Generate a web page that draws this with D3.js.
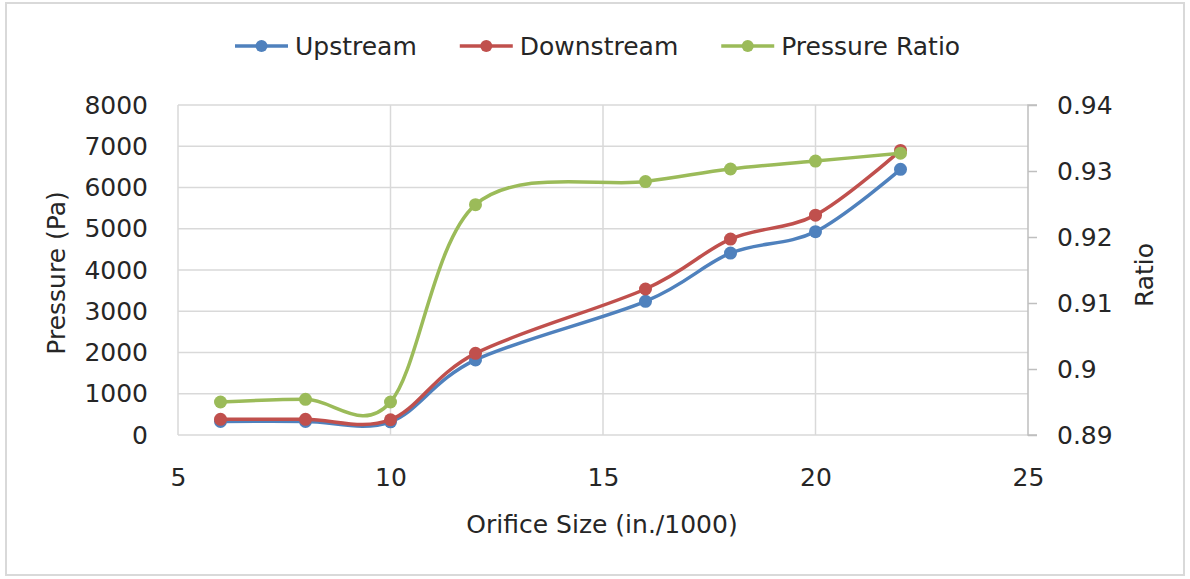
<!DOCTYPE html>
<html>
<head>
<meta charset="utf-8">
<script src="https://cdn.jsdelivr.net/npm/d3@7"></script>
<style>
  html, body { margin: 0; padding: 0; background: #ffffff; }
  svg { display: block; }
  text { font-family: "DejaVu Sans", sans-serif; fill: #262626; }
</style>
</head>
<body>
<svg id="chart" width="1190" height="579"></svg>
<script>
// Orifice sizes (in./1000)
const orificeSizes = [6, 8, 10, 12, 16, 18, 20, 22];
// Pressures (Pa)
const upstream   = [330, 330, 320, 1820, 3240, 4410, 4930, 6440];
const downstream = [380, 380, 370, 1980, 3540, 4750, 5330, 6900];
// Downstream / upstream pressure ratio
const pressureRatio = [0.8950, 0.8954, 0.8950, 0.9249, 0.9284, 0.9303, 0.9315, 0.9327];

const xTicks = [5, 10, 15, 20, 25];
const leftTicks = [0, 1000, 2000, 3000, 4000, 5000, 6000, 7000, 8000];
const rightTicks = [0.89, 0.90, 0.91, 0.92, 0.93, 0.94];

const seriesNames = ["Upstream", "Downstream", "Pressure Ratio"];
const seriesColors = ["#4f81bd", "#c0504d", "#9bbb59"];

const svg = d3.select("#chart");
const W = 1190, H = 579;
const plot = { left: 178, right: 1028, top: 105, bottom: 435 };

// outer frame
svg.append("rect")
  .attr("x", 6).attr("y", 3).attr("width", W - 12).attr("height", H - 7)
  .attr("fill", "#fff").attr("stroke", "#d9d9d9").attr("stroke-width", 2);

const x = d3.scaleLinear().domain([5, 25]).range([plot.left, plot.right]);
const yL = d3.scaleLinear().domain([0, 8000]).range([plot.bottom, plot.top]);
const yR = d3.scaleLinear().domain([0.89, 0.94]).range([plot.bottom, plot.top]);

// horizontal gridlines
svg.append("g").selectAll("line").data(leftTicks).join("line")
  .attr("x1", plot.left).attr("x2", plot.right)
  .attr("y1", d => yL(d)).attr("y2", d => yL(d))
  .attr("stroke", "#d9d9d9").attr("stroke-width", 1.5);

// vertical gridlines
svg.append("g").selectAll("line").data(xTicks.slice(0, -1)).join("line")
  .attr("x1", d => x(d)).attr("x2", d => x(d))
  .attr("y1", plot.top).attr("y2", plot.bottom)
  .attr("stroke", "#d9d9d9").attr("stroke-width", 1.5);

// right axis
const rightAxis = d3.axisRight(yR).tickValues(rightTicks).tickSize(9).tickPadding(20)
  .tickFormat(d => d3.format("")(+d.toFixed(2)));
const gR = svg.append("g").attr("transform", `translate(${plot.right},0)`).call(rightAxis);
gR.select(".domain").attr("stroke", "#bfbfbf").attr("stroke-width", 1.5)
  .attr("d", `M9,${plot.top}H0V${plot.bottom}H9`);
gR.selectAll(".tick line").attr("stroke", "#bfbfbf").attr("stroke-width", 1.5);
gR.selectAll(".tick text").attr("font-size", 25).attr("fill", "#262626")
  .attr("font-family", "DejaVu Sans");

// left axis labels
const leftAxis = d3.axisLeft(yL).tickValues(leftTicks).tickSize(0).tickPadding(30)
  .tickFormat(d3.format("d"));
const gL = svg.append("g").attr("transform", `translate(${plot.left},0)`).call(leftAxis);
gL.select(".domain").remove();
gL.selectAll(".tick text").attr("font-size", 25).attr("fill", "#262626")
  .attr("font-family", "DejaVu Sans");

// bottom axis labels
const bottomAxis = d3.axisBottom(x).tickValues(xTicks).tickSize(0).tickPadding(33)
  .tickFormat(d3.format("d"));
const gB = svg.append("g").attr("transform", `translate(0,${plot.bottom})`).call(bottomAxis);
gB.select(".domain").remove();
gB.selectAll(".tick text").attr("font-size", 25).attr("fill", "#262626")
  .attr("font-family", "DejaVu Sans");

// axis titles
svg.append("text").attr("x", 602).attr("y", 533).attr("text-anchor", "middle")
  .attr("font-size", 25).text("Orifice Size (in./1000)");
svg.append("text").attr("transform", "translate(65,273) rotate(-90)")
  .attr("text-anchor", "middle").attr("font-size", 25).text("Pressure (Pa)");
svg.append("text").attr("transform", "translate(1153,275) rotate(-90)")
  .attr("text-anchor", "middle").attr("font-size", 25).text("Ratio");

// series
const series = [
  { values: upstream, y: yL },
  { values: downstream, y: yL },
  { values: pressureRatio, y: yR }
];
const line = d3.line().curve(d3.curveCardinal.tension(0));

series.forEach((s, i) => {
  const pts = orificeSizes.map((o, j) => [x(o), s.y(s.values[j])]);
  const g = svg.append("g");
  g.append("path").attr("d", line(pts)).attr("fill", "none")
    .attr("stroke", seriesColors[i]).attr("stroke-width", 3.5)
    .attr("stroke-linejoin", "round").attr("stroke-linecap", "round");
  g.selectAll("circle").data(pts).join("circle")
    .attr("cx", d => d[0]).attr("cy", d => d[1]).attr("r", 6.5)
    .attr("fill", seriesColors[i]);
});

// legend
const legend = svg.append("g");
let lx = 235;
const ly = 46;
seriesNames.forEach((name, i) => {
  legend.append("line").attr("x1", lx).attr("x2", lx + 53).attr("y1", ly).attr("y2", ly)
    .attr("stroke", seriesColors[i]).attr("stroke-width", 3.5);
  legend.append("circle").attr("cx", lx + 26.5).attr("cy", ly).attr("r", 6)
    .attr("fill", seriesColors[i]);
  const t = legend.append("text").attr("x", lx + 60).attr("y", ly)
    .attr("dy", "0.35em").attr("font-size", 25).text(name);
  lx += 60 + t.node().getComputedTextLength() + 43;
});
</script>
</body>
</html>
